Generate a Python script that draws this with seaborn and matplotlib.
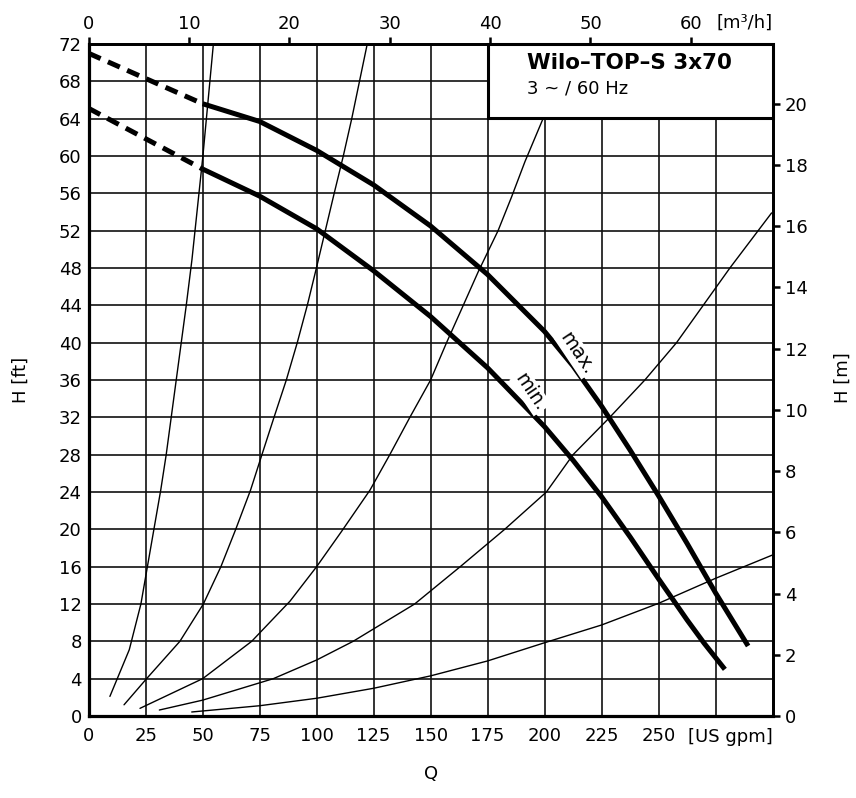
import matplotlib
matplotlib.use("Agg")
import matplotlib.pyplot as plt
import seaborn as sns
from matplotlib.patches import Rectangle

# ---------------- data (Q in US gpm, H in ft) ----------------
max_dash_q = [0, 50]
max_dash_h = [71.0, 65.6]
max_q = [50, 75, 100, 125, 150, 175, 200, 212.5, 225, 237.5, 250, 262.5, 275, 289.3]
max_h = [65.6, 63.7, 60.6, 56.9, 52.5, 47.3, 41.2, 37.5, 33.2, 28.5, 23.6, 18.5, 13.2, 7.5]

min_dash_q = [0, 50]
min_dash_h = [65.1, 58.6]
min_q = [50, 75, 100, 125, 150, 175, 200, 212.5, 225, 237.5, 250, 262.5, 270, 279.1]
min_h = [58.6, 55.7, 52.2, 47.7, 42.8, 37.3, 31.0, 27.4, 23.5, 19.2, 14.7, 10.3, 7.8, 5.0]

# system curves
sysA_q = [9.3, 17.8, 22.9, 31.6, 34.0, 38.4, 42.8, 45.3, 50.1, 54.7]
sysA_h = [2.1, 7.1, 12, 24.2, 28, 36, 44, 48.9, 60, 72]
sysB_q = [15.5, 25.4, 40, 50.3, 58, 64.5, 71, 76, 81.3, 86.7, 91.5, 95.9, 99.9, 107.7, 111.7, 115.4, 122.2]
sysB_h = [1.2, 4, 8, 12, 16, 20, 24.2, 28, 32, 36, 40, 44, 48, 56, 60, 64, 72]
sysC_q = [22.5, 50, 71.5, 88.3, 100, 111, 123.4, 132.1, 140.9, 150, 157, 163.6, 170.9, 179.6, 185.5, 191.4, 199.5]
sysC_h = [0.82, 4, 8, 12.3, 16, 19.8, 24.2, 28, 32, 36, 40, 43.6, 47.6, 52, 55.6, 59.4, 64.1]
sysD_q = [31, 50, 81, 100, 116, 143, 163, 182.5, 200.8, 212.5, 228.6, 244, 257.9, 269.6, 281.3, 293.7, 299.6]
sysD_h = [0.64, 1.7, 4, 6.0, 8, 12, 16, 20, 24, 28, 32, 36, 40, 44, 48, 52, 53.9]
sysE_q = [45.2, 75, 100, 125, 150, 175, 200, 225, 250, 275, 300]
sysE_h = [0.43, 1.1, 1.9, 2.97, 4.3, 5.9, 7.85, 9.75, 12.07, 14.75, 17.25]

x_ticks = [0, 25, 50, 75, 100, 125, 150, 175, 200, 225, 250, 275]
x_tick_labels = ["0", "25", "50", "75", "100", "125", "150", "175", "200", "225", "250", ""]
y_ticks_ft = list(range(0, 73, 4))
top_ticks_m3h = [0, 10, 20, 30, 40, 50, 60]
right_ticks_m = list(range(0, 21, 2))

title_main = "Wilo\u2013TOP\u2013S 3x70"
title_sub = "3 ~ / 60 Hz"

GPM_PER_M3H = 4.403
M_PER_FT = 0.3048

# ---------------- style ----------------
sns.set_style("white")
plt.rcParams["font.family"] = ["DejaVu Sans"]
plt.rcParams["font.size"] = 13
for k in ["text.color", "axes.labelcolor", "xtick.color", "ytick.color", "axes.edgecolor"]:
    plt.rcParams[k] = "black"

fig = plt.figure(figsize=(8.56, 7.98), dpi=100)
ax = fig.add_axes([88.7 / 856, 82 / 798, (772.5 - 88.7) / 856, (716 - 44) / 798])

ax.set_xlim(0, 300)
ax.set_ylim(0, 72)

# grid
ax.set_xticks(x_ticks)
ax.set_xticklabels(x_tick_labels)
ax.set_yticks(y_ticks_ft)
ax.grid(True, color="#111111", linewidth=1.2, zorder=0)
ax.set_axisbelow(True)
ax.tick_params(axis="both", length=0, labelsize=13, colors="black")
ax.tick_params(axis="x", pad=8)
ax.tick_params(axis="y", pad=5)

for s in ["left", "bottom"]:
    ax.spines[s].set_linewidth(2.3)
for s in ["top", "right"]:
    ax.spines[s].set_linewidth(2.0)
for s in ax.spines.values():
    s.set_color("black")
    s.set_zorder(5)

# system curves (thin)
for q, h in [(sysA_q, sysA_h), (sysB_q, sysB_h), (sysC_q, sysC_h), (sysD_q, sysD_h), (sysE_q, sysE_h)]:
    sns.lineplot(x=q, y=h, ax=ax, color="black", linewidth=1.0, sort=False, estimator=None, zorder=2)

# pump curves (thick)
for q, h in [(max_q, max_h), (min_q, min_h)]:
    sns.lineplot(x=q, y=h, ax=ax, color="black", linewidth=3.6, sort=False, estimator=None,
                 zorder=3, solid_capstyle="butt", solid_joinstyle="round")
for q, h in [(max_dash_q, max_dash_h), (min_dash_q, min_dash_h)]:
    sns.lineplot(x=q, y=h, ax=ax, color="black", linewidth=3.6, sort=False, estimator=None,
                 zorder=3, linestyle=(0, (2.6, 1.6)))

# curve labels
ax.text(214, 38.9, "max.", rotation=-56, ha="center", va="center", fontsize=13.5, zorder=4,
        rotation_mode="anchor", bbox=dict(facecolor="white", edgecolor="none", pad=1))
ax.text(193.8, 34.7, "min.", rotation=-56, ha="center", va="center", fontsize=13.5, zorder=4,
        rotation_mode="anchor", bbox=dict(facecolor="white", edgecolor="none", pad=1))

# title box
ax.add_patch(Rectangle((175, 64.1), 125, 7.9, facecolor="white", edgecolor="black",
                       linewidth=2.2, zorder=6, clip_on=False))
ax.text(192.5, 70.0, title_main, fontsize=15.5, fontweight="bold", ha="left", va="center", zorder=7)
ax.text(192.5, 67.2, title_sub, fontsize=13, ha="left", va="center", zorder=7)

# unit labels on the axes
ax.text(300, -1.3, "[US gpm]", ha="right", va="top", fontsize=13)
ax.text(300, 73.3, "[m\u00b3/h]", ha="right", va="bottom", fontsize=13)

# secondary axes
top = ax.secondary_xaxis("top", functions=(lambda q: q / GPM_PER_M3H, lambda m: m * GPM_PER_M3H))
top.set_xticks(top_ticks_m3h)
top.tick_params(length=5, width=1.8, pad=3, labelsize=13, direction="out", colors="black")
top.spines["top"].set_linewidth(2.0)

right = ax.secondary_yaxis("right", functions=(lambda f: f * M_PER_FT, lambda m: m / M_PER_FT))
right.set_yticks(right_ticks_m)
right.tick_params(length=5, width=1.8, pad=4, labelsize=13, direction="out", colors="black")
right.spines["right"].set_linewidth(2.0)

# axis titles
ax.set_xlabel("Q", fontsize=13)
ax.xaxis.set_label_coords(0.5, (716 - 765) / 672)
ax.set_ylabel("H [ft]", fontsize=13)
ax.yaxis.set_label_coords((30 - 88.7) / 684, 0.5)
fig.text(843 / 856, 1 - 378 / 798, "H [m]", rotation=90, ha="center", va="center", fontsize=13)

fig.savefig("out.png", dpi=100)
